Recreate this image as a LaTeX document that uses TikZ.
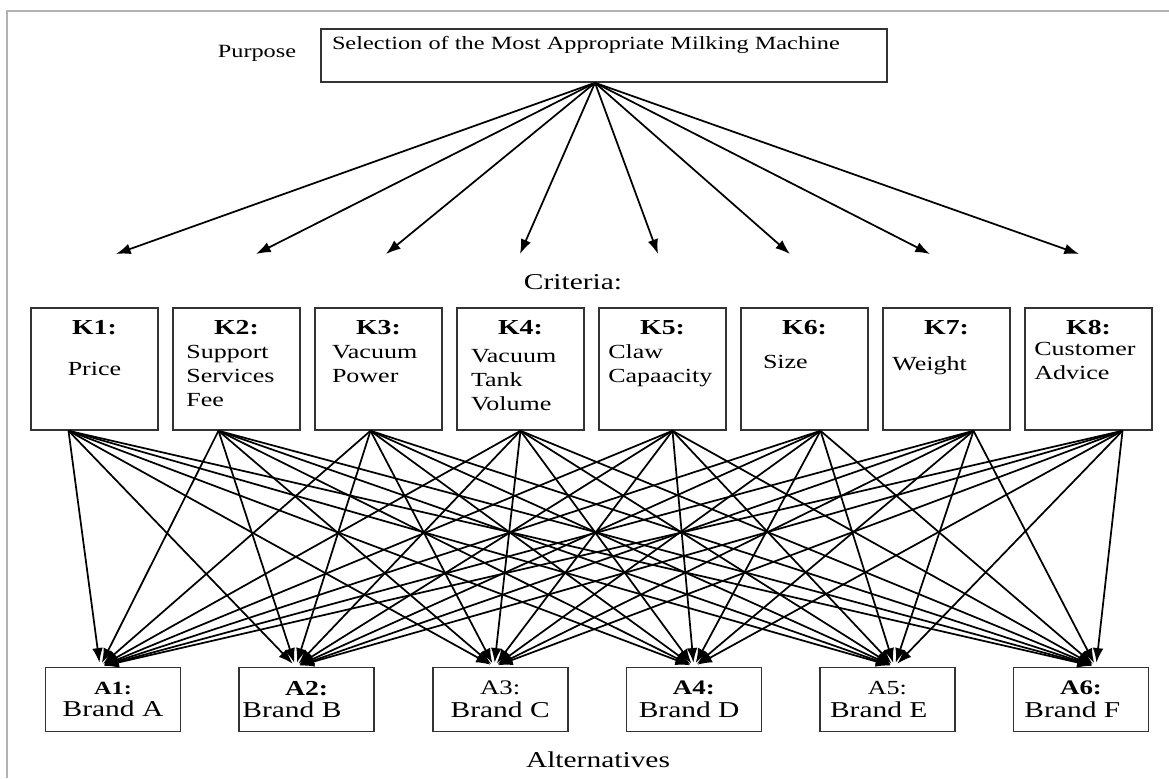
\documentclass[tikz,border=0pt]{standalone}
\usepackage{fontspec}
\setmainfont{Liberation Serif}[FakeStretch=1.3]
\usepackage{tikz}
\usetikzlibrary{positioning, arrows.meta}
\tikzset{
>={Latex[length=11pt, width=8pt]}, % filled triangular heads
node distance=106.5pt, % centre to centre distance of the criteria boxes
box/.style={draw=black!80, line width=1.2pt, inner sep=0pt}, % plain frame of every box
crit/.style={box, inner ysep=4pt}, % criteria boxes, the text comes from \critbox
alt/.style={box, minimum width=101.25pt, minimum height=48pt, align=center, font=\fontsize{17}{17}\selectfont}, % alternatives
link/.style={->, line width=1.3pt}, % the connecting arrows
caption/.style={font=\fontsize{17}{20}\selectfont}, % level captions
}
% label, left inset, extra drop, body
\newcommand{\critbox}[4]{%
  \begin{minipage}[t][83.5pt][t]{95.25pt}
    \centering\fontsize{16}{18}\selectfont\rule{0pt}{15.5pt}\textbf{#1}\par
    \vspace{#3}\raggedright\leftskip=#2\relax
    \fontsize{15}{18}\selectfont #4%
  \end{minipage}}

\begin{document}
\begin{tikzpicture}[x=0.75pt, y=-0.75pt]
                \useasboundingbox (0,0) rectangle (1169,778);
                \draw[gray!60, line width=1.5pt] (7,778) |- (1169,11);

                \node[font=\fontsize{14}{16}\selectfont] (purpose) at (257,53) {Purpose};
                \node[box, minimum width=424.5pt, text width=408pt, inner xsep=8.25pt, inner ysep=3pt,
                      text height=12pt, text depth=21.75pt, align=left, font=\fontsize{14}{16}\selectfont]
                      (goal) at (604,55.5) {Selection of the Most Appropriate Milking Machine};

                \node[caption] (criteria) at (573,282) {Criteria:};
                \node[crit] (K1) at (94.5,369) {\critbox{K1:}{0pt}{13pt}{\centering Price}};
                \node[crit, right of=K1] (K2) {\critbox{K2:}{10pt}{0pt}{Support\\Services\\Fee}};
                \node[crit, right of=K2] (K3) {\critbox{K3:}{12.75pt}{0pt}{Vacuum\\Power}};
                \node[crit, right of=K3] (K4) {\critbox{K4:}{10.5pt}{3pt}{Vacuum\\Tank\\Volume}};
                \node[crit, right of=K4] (K5) {\critbox{K5:}{7pt}{0pt}{Claw\\Capaacity}};
                \node[crit, right of=K5] (K6) {\critbox{K6:}{16.5pt}{7.5pt}{Size}};
                \node[crit, right of=K6] (K7) {\critbox{K7:}{7pt}{9pt}{Weight}};
                \node[crit, right of=K7] (K8) {\critbox{K8:}{7pt}{-2pt}{Customer\\Advice}};

                \begin{scope}[node distance=145.2pt]
                \node[alt] (A1) at (113,699.5) {{\fontsize{14}{15}\selectfont\textbf{A1:}}\\Brand A};
                \node[alt, right of=A1] (A2) {{\fontsize{16}{15}\selectfont\textbf{A2:}}\\\hspace*{-22pt}Brand B};
                \node[alt, right of=A2] (A3) {{\fontsize{15.5}{15}\selectfont A3:}\\Brand C};
                \node[alt, right of=A3] (A4) {{\fontsize{15.5}{15}\selectfont\textbf{A4:}}\\\hspace*{-7pt}Brand D};
                \node[alt, right of=A4] (A5) {{\fontsize{15}{15}\selectfont A5:}\\\hspace*{-13pt}Brand E};
                \node[alt, right of=A5] (A6) {{\fontsize{15.5}{15}\selectfont\textbf{A6:}}\\\hspace*{-13pt}Brand F};
                \end{scope}
                \node[caption] (alternatives) at (598,760) {Alternatives};

                % free ends of the arrows above the criteria
                \foreach \i/\x in {1/116,2/256,3/386,4/520,5/658,6/790,7/930,8/1079}
                    \coordinate (t\i) at (\x,254);
                \foreach \i in {1,...,8}
                    \draw[link] ([xshift=-6.75pt]goal.south) -- (t\i);

                % every criterion points to every alternative
                \foreach \k/\dk in {1/-19.5pt,2/-13.5pt,3/-6pt,4/0pt,5/7.5pt,6/12pt,7/20.25pt,8/25.5pt}
                    \foreach \a/\da in {1/-9.75pt,2/-8.25pt,3/-4.5pt,4/0pt,5/5.25pt,6/11.25pt}
                        \draw[link, shorten >=3pt] ([xshift=\dk]K\k.south) -- ([xshift=\da]A\a.north);
                \end{tikzpicture}
\end{document}
